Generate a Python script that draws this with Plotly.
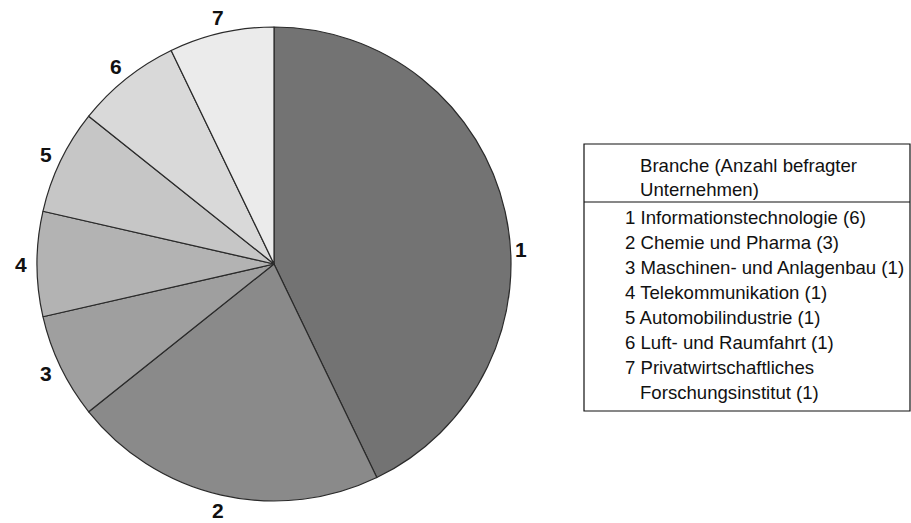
import math
import plotly.graph_objects as go

labels = ["1", "2", "3", "4", "5", "6", "7"]
values = [6, 3, 1, 1, 1, 1, 1]
branchen = [
    "Informationstechnologie",
    "Chemie und Pharma",
    "Maschinen- und Anlagenbau",
    "Telekommunikation",
    "Automobilindustrie",
    "Luft- und Raumfahrt",
    "Privatwirtschaftliches<br>Forschungsinstitut",
]
colors = ["#737373", "#8a8a8a", "#9f9f9f", "#b3b3b3", "#c6c6c6", "#d9d9d9", "#ebebeb"]
legend_title = "Branche (Anzahl befragter<br>Unternehmen)"

W, H = 911, 523
cx, cy, r = 274, 264, 237
# style: per-label angular nudge (degrees) and radial gap (px) for outside labels
label_angle_nudge = {"1": 9.5}
label_gap = 16

fig = go.Figure()
fig.add_trace(go.Pie(
    labels=labels, values=values, sort=False, direction="clockwise", rotation=0,
    marker=dict(colors=colors, line=dict(color="#2a2a2a", width=1.2)),
    textinfo="none",
    domain=dict(x=[(cx - r) / W, (cx + r) / W], y=[(H - cy - r) / H, (H - cy + r) / H]),
    showlegend=False, hoverinfo="label+value",
))

# outside slice labels, positioned at each slice's mid-angle
total = sum(values)
cum = 0
for lab, val in zip(labels, values):
    mid = (cum + val / 2) / total * 360 + label_angle_nudge.get(lab, 0)
    cum += val
    th = math.radians(mid)
    gap = label_gap if lab not in label_angle_nudge else 10
    px = cx + (r + gap) * math.sin(th)
    py = cy - (r + gap) * math.cos(th)
    fig.add_annotation(xref="paper", yref="paper", x=px / W, y=1 - py / H,
                       text=f"<b>{lab}</b>", showarrow=False, xanchor="center", yanchor="middle",
                       font=dict(family="Liberation Sans, Arial", size=21, color="#111"))

# legend box
bx0, bx1, by0, by1, ysep = 584, 910, 144, 411, 202
fig.add_shape(type="rect", xref="paper", yref="paper",
              x0=bx0 / W, x1=bx1 / W, y0=1 - by1 / H, y1=1 - by0 / H,
              line=dict(color="#111", width=1.2))
fig.add_shape(type="line", xref="paper", yref="paper",
              x0=bx0 / W, x1=bx1 / W, y0=1 - ysep / H, y1=1 - ysep / H,
              line=dict(color="#111", width=1.2))

font = dict(family="Liberation Sans, Arial", size=18.6, color="#111")
fig.add_annotation(xref="paper", yref="paper", x=638 / W, y=1 - 177 / H,
                   text=legend_title, showarrow=False, xanchor="left", yanchor="middle",
                   align="left", font=font)
row_y = 217
step = 25
for lab, name, val in zip(labels, branchen, values):
    txt = f"{lab} {name} ({val})"
    parts = txt.split("<br>")
    fig.add_annotation(xref="paper", yref="paper", x=623 / W, y=1 - row_y / H,
                       text=parts[0], showarrow=False, xanchor="left", yanchor="middle", font=font)
    for extra in parts[1:]:
        row_y += step
        fig.add_annotation(xref="paper", yref="paper", x=638 / W, y=1 - row_y / H,
                           text=extra, showarrow=False, xanchor="left", yanchor="middle", font=font)
    row_y += step

fig.update_layout(width=W, height=H, margin=dict(l=0, r=0, t=0, b=0),
                  paper_bgcolor="white", plot_bgcolor="white")
fig.write_html("out.html")
